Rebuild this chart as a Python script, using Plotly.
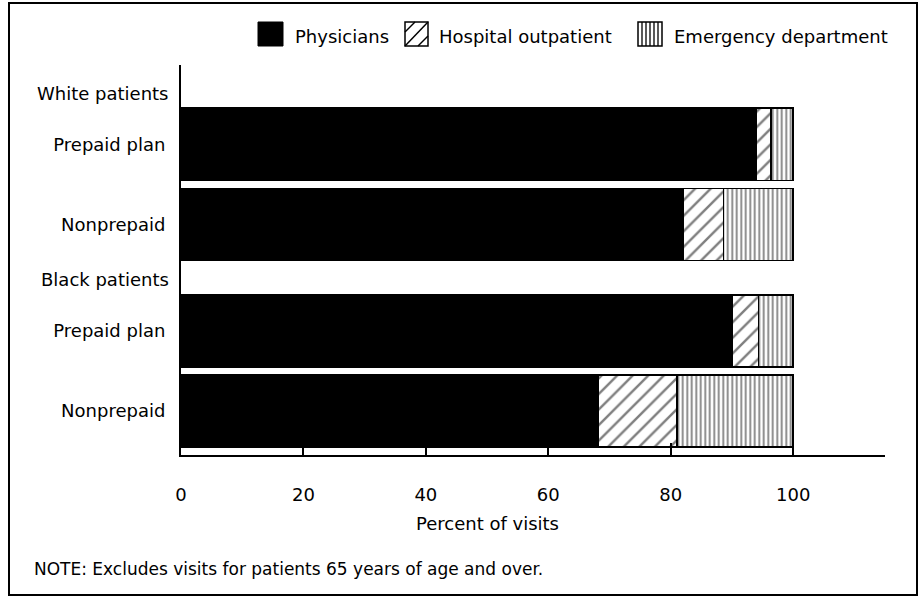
import plotly.graph_objects as go

# ---- data ----
groups = ["White patients", "White patients", "Black patients", "Black patients"]
rows = ["Prepaid plan", "Nonprepaid", "Prepaid plan", "Nonprepaid"]
physicians = [93.9, 82.0, 90.1, 68.2]
outpatient = [2.5, 6.6, 4.2, 12.8]
emergency = [3.6, 11.4, 5.7, 19.0]
series_names = ["Physicians", "Hospital outpatient", "Emergency department"]
x_ticks = [0, 20, 40, 60, 80, 100]
x_title = "Percent of visits"
note = "NOTE: Excludes visits for patients 65 years of age and over."

FONT = "DejaVu Sans, Liberation Sans, Arial, sans-serif"
FS = 18

# row positions: one unit per bar, extra gap between groups
group_order = []
for g in groups:
    if g not in group_order:
        group_order.append(g)
GAP = 0.33
pos = [i + GAP * group_order.index(g) for i, g in enumerate(groups)]

W, H = 920, 598
L, R, T, B = 181, 35, 65, 143
PW, PH = W - L - R, H - T - B


def px(x):
    return (x - L) / PW


def py(y):
    return (H - B - y) / PH


fig = go.Figure()
line = dict(color="black", width=1.5)
fig.add_trace(go.Bar(y=pos, x=physicians, orientation="h", name=series_names[0],
                     marker=dict(color="black", line=line), width=0.9))
fig.add_trace(go.Bar(y=pos, x=outpatient, orientation="h", name=series_names[1],
                     marker=dict(color="white", line=line,
                                 pattern=dict(shape="/", fgcolor="black", bgcolor="white",
                                              size=11, solidity=0.22)), width=0.9))
fig.add_trace(go.Bar(y=pos, x=emergency, orientation="h", name=series_names[2],
                     marker=dict(color="white", line=line,
                                 pattern=dict(shape="|", fgcolor="black", bgcolor="white",
                                              size=4.5, solidity=0.4)), width=0.9))

fig.update_layout(
    barmode="stack",
    width=W, height=H,
    margin=dict(l=L, r=R, t=T, b=B),
    paper_bgcolor="white", plot_bgcolor="white",
    showlegend=False,
    font=dict(family=FONT, size=FS, color="black"),
)
fig.update_xaxes(range=[0, 115], tickvals=x_ticks, ticktext=[str(t) for t in x_ticks],
                 ticks="inside", ticklen=12, tickwidth=2, tickcolor="black",
                 showline=True, linecolor="black", linewidth=2, showgrid=False,
                 zeroline=False, tickfont=dict(size=FS), ticklabelstandoff=22,
                 fixedrange=True)
fig.update_yaxes(range=[3.88, -0.99], tickvals=pos, ticktext=rows, ticks="",
                 showline=True, linecolor="black", linewidth=2, showgrid=False,
                 zeroline=False, tickfont=dict(size=FS), ticklabelstandoff=10,
                 fixedrange=True)

ann = []
# group headers
for g in group_order:
    first = pos[groups.index(g)]
    ann.append(dict(x=0, xref="paper", y=first - 0.64, yref="y", text=g, showarrow=False,
                    xanchor="right", yanchor="middle", xshift=-10, font=dict(size=FS)))
# axis title centred on 0..100
ann.append(dict(x=50, xref="x", y=py(523), yref="paper", text=x_title, showarrow=False,
                xanchor="center", yanchor="middle", font=dict(size=FS)))
# note
ann.append(dict(x=px(32), xref="paper", y=py(569), yref="paper", text=note, showarrow=False,
                xanchor="left", yanchor="middle", font=dict(size=17)))

shapes = []
# legend icons
ly0, ly1 = 22, 46
icons = [(258, 283), (405, 428), (638, 662)]
text_x = [293, 437, 672]
shapes.append(dict(type="rect", xref="paper", yref="paper", x0=px(icons[0][0]), x1=px(icons[0][1]),
                   y0=py(ly1), y1=py(ly0), fillcolor="black", line=dict(color="black", width=1)))
a, b = icons[1]
shapes.append(dict(type="rect", xref="paper", yref="paper", x0=px(a), x1=px(b),
                   y0=py(ly1), y1=py(ly0), fillcolor="white", line=dict(color="black", width=1.5)))
shapes.append(dict(type="line", xref="paper", yref="paper", x0=px(a), y0=py(ly1), x1=px(b), y1=py(ly0),
                   line=dict(color="black", width=1.5)))
shapes.append(dict(type="line", xref="paper", yref="paper", x0=px(a), y0=py(ly0 + 10), x1=px(a + 10), y1=py(ly0),
                   line=dict(color="black", width=1.5)))
shapes.append(dict(type="line", xref="paper", yref="paper", x0=px(b - 10), y0=py(ly1), x1=px(b), y1=py(ly1 - 10),
                   line=dict(color="black", width=1.5)))
a, b = icons[2]
shapes.append(dict(type="rect", xref="paper", yref="paper", x0=px(a), x1=px(b),
                   y0=py(ly1), y1=py(ly0), fillcolor="white", line=dict(color="black", width=1.5)))
for k in range(1, 6):
    xx = a + k * (b - a) / 6
    shapes.append(dict(type="line", xref="paper", yref="paper", x0=px(xx), y0=py(ly1), x1=px(xx), y1=py(ly0),
                       line=dict(color="black", width=1.3)))
for name, tx in zip(series_names, text_x):
    ann.append(dict(x=px(tx), xref="paper", y=py(36), yref="paper", text=name, showarrow=False,
                    xanchor="left", yanchor="middle", font=dict(size=FS)))

# outer border
shapes.append(dict(type="rect", xref="paper", yref="paper", x0=px(9), x1=px(917), y0=py(595), y1=py(3),
                   line=dict(color="black", width=2), fillcolor="rgba(0,0,0,0)"))

fig.update_layout(annotations=ann, shapes=shapes)
fig.write_html("out.html",
               config={"displayModeBar": False, "staticPlot": True},
               post_script="document.body.style.margin='0';document.body.style.padding='0';"
                           "document.body.style.overflow='hidden';")
